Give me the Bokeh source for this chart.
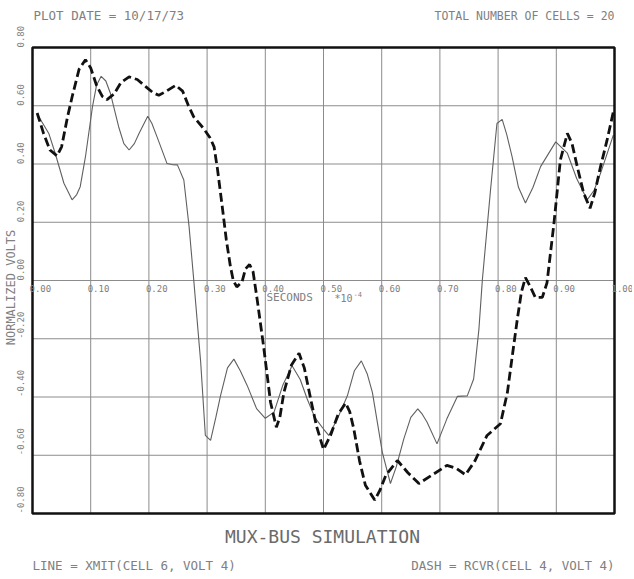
import math
from bokeh.plotting import figure
from bokeh.models import Range1d
from bokeh.core.properties import value
from bokeh.embed import file_html
from bokeh.resources import INLINE

# ---------------- data ----------------
rcvr_x = [0.008, 0.019, 0.030, 0.042, 0.050, 0.060, 0.068, 0.080, 0.091, 0.100,
          0.110, 0.120, 0.128, 0.140, 0.152, 0.166, 0.180, 0.195, 0.207, 0.217,
          0.230, 0.246, 0.258, 0.268, 0.277, 0.294, 0.305, 0.312, 0.318, 0.326,
          0.333, 0.340, 0.345, 0.351, 0.360, 0.366, 0.373, 0.379, 0.386, 0.397,
          0.409, 0.419, 0.425, 0.432, 0.445, 0.458, 0.467, 0.478, 0.488, 0.500,
          0.512, 0.525, 0.538, 0.545, 0.552, 0.562, 0.572, 0.588, 0.597, 0.607,
          0.627, 0.645, 0.664, 0.685, 0.712, 0.728, 0.744, 0.760, 0.781, 0.804,
          0.816, 0.825, 0.833, 0.840, 0.847, 0.855, 0.864, 0.876, 0.884, 0.896,
          0.907, 0.919, 0.927, 0.936, 0.947, 0.958, 0.966, 0.976, 0.987, 0.998]
rcvr_y = [0.575, 0.505, 0.448, 0.428, 0.459, 0.560, 0.630, 0.725, 0.758, 0.730,
          0.670, 0.632, 0.621, 0.640, 0.680, 0.699, 0.690, 0.665, 0.645, 0.636,
          0.650, 0.670, 0.650, 0.600, 0.562, 0.522, 0.490, 0.459, 0.380, 0.254,
          0.140, 0.049, 0.000, -0.022, -0.005, 0.040, 0.055, 0.030, -0.065, -0.225,
          -0.418, -0.504, -0.470, -0.384, -0.290, -0.250, -0.300, -0.407, -0.500, -0.580,
          -0.532, -0.460, -0.421, -0.450, -0.509, -0.620, -0.703, -0.754, -0.720, -0.669,
          -0.618, -0.660, -0.697, -0.670, -0.635, -0.645, -0.667, -0.620, -0.532, -0.492,
          -0.384, -0.250, -0.133, -0.040, 0.010, -0.020, -0.058, -0.058, -0.008, 0.197,
          0.414, 0.505, 0.470, 0.391, 0.300, 0.248, 0.300, 0.391, 0.480, 0.579]

xmit_x = [0.008, 0.016, 0.028, 0.039, 0.054, 0.068, 0.076, 0.082, 0.091, 0.103,
          0.110, 0.118, 0.126, 0.134, 0.148, 0.157, 0.166, 0.175, 0.183, 0.198,
          0.205, 0.214, 0.231, 0.240, 0.249, 0.260, 0.269, 0.277, 0.289, 0.297,
          0.306, 0.315, 0.323, 0.335, 0.346, 0.357, 0.369, 0.385, 0.400, 0.415,
          0.430, 0.446, 0.460, 0.472, 0.485, 0.500, 0.509, 0.525, 0.541, 0.553,
          0.565, 0.575, 0.584, 0.601, 0.615, 0.625, 0.638, 0.650, 0.662, 0.670,
          0.678, 0.695, 0.712, 0.730, 0.747, 0.758, 0.767, 0.773, 0.787, 0.798,
          0.807, 0.815, 0.824, 0.835, 0.847, 0.860, 0.873, 0.899, 0.919, 0.935,
          0.953, 0.965, 0.976, 0.998]
xmit_y = [0.573, 0.545, 0.505, 0.437, 0.334, 0.277, 0.295, 0.322, 0.425, 0.596,
          0.670, 0.701, 0.685, 0.642, 0.528, 0.470, 0.448, 0.470, 0.505, 0.564,
          0.540, 0.493, 0.402, 0.398, 0.397, 0.345, 0.186, 0.003, -0.281, -0.532,
          -0.549, -0.470, -0.396, -0.300, -0.270, -0.310, -0.361, -0.440, -0.473, -0.452,
          -0.360, -0.293, -0.340, -0.407, -0.470, -0.510, -0.532, -0.470, -0.396, -0.310,
          -0.276, -0.320, -0.384, -0.589, -0.697, -0.640, -0.544, -0.470, -0.441, -0.460,
          -0.487, -0.561, -0.475, -0.398, -0.396, -0.338, -0.168, 0.003, 0.311, 0.539,
          0.553, 0.500, 0.425, 0.320, 0.266, 0.320, 0.391, 0.476, 0.437, 0.350,
          0.277, 0.310, 0.368, 0.499]

x_ticks = [0.0, 0.1, 0.2, 0.3, 0.4, 0.5, 0.6, 0.7, 0.8, 0.9, 1.0]
x_tick_labels = ["0.00", "0.10", "0.20", "0.30", "0.40", "0.50",
                 "0.60", "0.70", "0.80", "0.90", "1.00"]
y_ticks = [-0.8, -0.6, -0.4, -0.2, 0.0, 0.2, 0.4, 0.6, 0.8]
y_tick_labels = ["-0.80", "-0.60", "-0.40", "-0.20", "0.00",
                 "0.20", "0.40", "0.60", "0.80"]

header_left = "PLOT DATE = 10/17/73"
header_right = "TOTAL NUMBER OF CELLS = 20"
title_text = "MUX-BUS SIMULATION"
legend_line = "LINE = XMIT(CELL 6, VOLT 4)"
legend_dash = "DASH = RCVR(CELL 4, VOLT 4)"
y_label = "NORMALIZED VOLTS"
x_label = "SECONDS"
x_mult = "*10"
x_exp = "-4"

# ---------------- layout ----------------
W, H = 632, 577
L, T = 32, 47                 # frame left / top (px)
R, B = W - 614, H - 513       # frame right / bottom margins (px)
X0, X1, Y0, Y1 = 0.0, 1.0, -0.8, 0.8
sx = (W - L - R) / (X1 - X0)
sy = (H - T - B) / (Y1 - Y0)


def fx(px):
    return X0 + (px - L) / sx


def fy(py):
    return Y1 - (py - T) / sy


p = figure(width=W, height=H,
           x_range=Range1d(X0 - L / sx, X1 + R / sx),
           y_range=Range1d(Y0 - B / sy, Y1 + T / sy),
           output_backend="svg", toolbar_location=None,
           x_axis_location=None, y_axis_location=None,
           min_border=0)
p.grid.visible = False
p.outline_line_color = None
p.background_fill_color = "white"
p.border_fill_color = "white"

MONO = value("DejaVu Sans Mono")
GREY = "#808080"

# grid lines
p.segment(x0=x_ticks, y0=[Y0] * len(x_ticks), x1=x_ticks, y1=[Y1] * len(x_ticks),
          line_color="#8c8c8c", line_width=1)
p.segment(x0=[X0] * len(y_ticks), y0=y_ticks, x1=[X1] * len(y_ticks), y1=y_ticks,
          line_color="#8c8c8c", line_width=1)

# curves
p.line(xmit_x, xmit_y, line_color="#606060", line_width=1.1)
p.line(rcvr_x, rcvr_y, line_color="#111111", line_width=2.8, line_dash="9 4")

# frame
p.quad(left=[X0], right=[X1], bottom=[Y0], top=[Y1], fill_color=None,
       line_color="#111111", line_width=2.5)

# tick labels
p.text(x=x_ticks, y=[0.0] * len(x_ticks), text=x_tick_labels,
       x_offset=-3, y_offset=4, text_align="left", text_baseline="top",
       text_font=MONO, text_font_size="9px", text_color=GREY)
p.text(x=[X0] * len(y_ticks), y=y_ticks, text=y_tick_labels,
       angle=math.pi / 2, x_offset=-12, text_align="left", text_baseline="middle",
       text_font=MONO, text_font_size="9px", text_color=GREY)

# axis labels
p.text(x=[fx(10)], y=[fy(287)], text=[y_label], angle=math.pi / 2,
       text_align="center", text_baseline="middle",
       text_font=MONO, text_font_size="12px", text_color=GREY)
p.text(x=[fx(266)], y=[fy(297)], text=[x_label], text_align="left",
       text_baseline="middle", text_font=MONO, text_font_size="11px", text_color=GREY)
p.text(x=[fx(334)], y=[fy(298)], text=[x_mult], text_align="left",
       text_baseline="middle", text_font=MONO, text_font_size="10px", text_color=GREY)
p.text(x=[fx(353)], y=[fy(293)], text=[x_exp], text_align="left",
       text_baseline="middle", text_font=MONO, text_font_size="7px", text_color=GREY)

# header / footer
p.text(x=[fx(33)], y=[fy(15)], text=[header_left], text_align="left",
       text_baseline="middle", text_font=MONO, text_font_size="12.5px", text_color=GREY)
p.text(x=[fx(614)], y=[fy(15)], text=[header_right], text_align="right",
       text_baseline="middle", text_font=MONO, text_font_size="11.5px", text_color=GREY)
p.text(x=[fx(322)], y=[fy(536)], text=[title_text], text_align="center",
       text_baseline="middle", text_font=MONO, text_font_size="18px", text_color="#6a6a6a")
p.text(x=[fx(32)], y=[fy(565)], text=[legend_line], text_align="left",
       text_baseline="middle", text_font=MONO, text_font_size="12.5px", text_color=GREY)
p.text(x=[fx(614)], y=[fy(565)], text=[legend_dash], text_align="right",
       text_baseline="middle", text_font=MONO, text_font_size="12.5px", text_color=GREY)

open("out.html", "w").write(file_html(p, INLINE))
